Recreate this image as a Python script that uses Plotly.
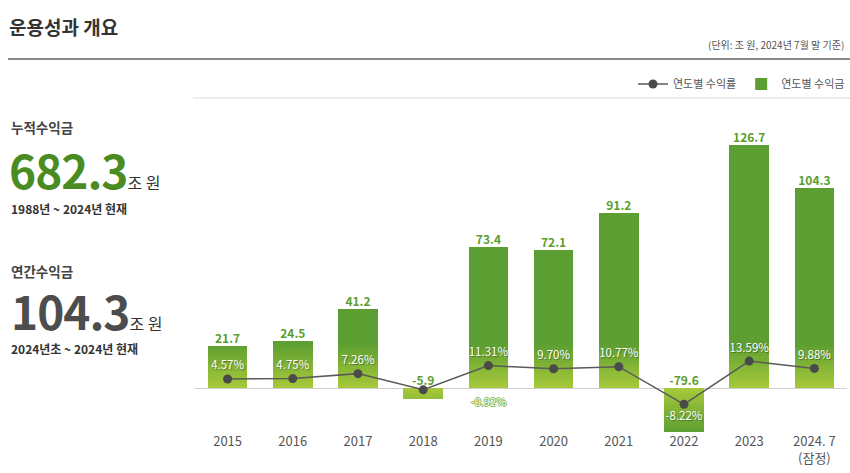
import plotly.graph_objects as go

# ---------------- data ----------------
years = ["2015", "2016", "2017", "2018", "2019", "2020", "2021", "2022", "2023", "2024. 7<br>(잠정)"]
amounts = [21.7, 24.5, 41.2, -5.9, 73.4, 72.1, 91.2, -79.6, 126.7, 104.3]          # 연도별 수익금 (조 원)
rates = [4.57, 4.75, 7.26, -0.92, 11.31, 9.70, 10.77, -8.22, 13.59, 9.88]          # 연도별 수익률 (%)
amount_labels = ["21.7", "24.5", "41.2", "-5.9", "73.4", "72.1", "91.2", "-79.6", "126.7", "104.3"]
rate_labels = ["4.57%", "4.75%", "7.26%", "-0.92%", "11.31%", "9.70%", "10.77%", "-8.22%", "13.59%", "9.88%"]

FONT = "Noto Sans CJK KR"
W, H = 850, 473
DARK = (92, 158, 50)
LIGHT = (168, 202, 58)
GREEN_TXT = "#5a9e2f"

# plot area in pixels
PX_L, PX_R, PX_T, PX_B = 195, 847, 98, 432
ZERO_PX = 388
Y_PX_PER_UNIT = 1.92
Y2_PX_PER_UNIT = 1.98

def px2paper_x(px):
    return px / W

def px2paper_y(py):
    return (H - py) / H

y_range = [-(PX_B - ZERO_PX) / Y_PX_PER_UNIT, (ZERO_PX - PX_T) / Y_PX_PER_UNIT]
y2_range = [-(PX_B - ZERO_PX) / Y2_PX_PER_UNIT, (ZERO_PX - PX_T) / Y2_PX_PER_UNIT]

xpos = list(range(len(years)))

fig = go.Figure()

BAR_W = 0.61
# main bars
fig.add_trace(go.Bar(
    x=xpos, y=amounts, width=BAR_W, name="연도별 수익금",
    marker=dict(color="rgb(%d,%d,%d)" % DARK, line=dict(width=0)),
    hoverinfo="skip", cliponaxis=True,
))

# gradient bands near the baseline (derived from the data values)
G = 23.0
N = 14
step = G / N
for k in range(N):
    lo = k * step
    t = (k + 0.5) / N
    c = tuple(int(round(LIGHT[i] + (DARK[i] - LIGHT[i]) * t)) for i in range(3))
    bases, heights = [], []
    for v in amounts:
        if v >= 0:
            h = min(step, max(0.0, v - lo))
            bases.append(lo)
            heights.append(h)
        else:
            h = min(step, max(0.0, -v - lo))
            bases.append(-lo)
            heights.append(-h)
    fig.add_trace(go.Bar(
        x=xpos, y=heights, base=bases, width=BAR_W,
        marker=dict(color="rgb(%d,%d,%d)" % c, line=dict(width=0)),
        showlegend=False, hoverinfo="skip", cliponaxis=True,
    ))

# value labels
fig.add_trace(go.Scatter(
    x=xpos, y=[max(v, 0) for v in amounts], mode="text",
    text=amount_labels, textposition="top center",
    textfont=dict(family=FONT, size=12, color=GREEN_TXT, weight="bold"),
    showlegend=False, hoverinfo="skip", cliponaxis=False,
))

# rate line
rate_pos = ["bottom center" if r < -5 else "top center" for r in rates]
rate_text = ["" if (-5 < r < 0) else lbl for r, lbl in zip(rates, rate_labels)]
fig.add_trace(go.Scatter(
    x=xpos, y=rates, yaxis="y2", mode="lines+markers+text",
    name="연도별 수익률",
    line=dict(color="#5a5a5a", width=1.5),
    marker=dict(color="#4a4a4a", size=9),
    text=rate_text, textposition=rate_pos,
    textfont=dict(family=FONT, size=11.5, color="white",
                  shadow="1px 1px 1px rgba(0,0,0,0.35)"),
    hoverinfo="skip", cliponaxis=False,
))

annotations = []
# small negative rate label (displaced, green outlined white text)
for xp, r, lbl in zip(xpos, rates, rate_labels):
    if -5 < r < 0:
        annotations.append(dict(
            x=xp, y=r, xref="x", yref="y2", text=lbl, showarrow=False,
            xshift=65, yshift=-11,
            font=dict(family=FONT, size=11, color="white",
                      shadow="1px 0 0 #7ab443, -1px 0 0 #7ab443, 0 1px 0 #7ab443, 0 -1px 0 #7ab443"),
        ))

# header
annotations += [
    dict(x=px2paper_x(7), y=px2paper_y(27), xref="paper", yref="paper",
         text="<b>운용성과 개요</b>", showarrow=False, xanchor="left", yanchor="middle",
         font=dict(family=FONT, size=19, color="#333")),
    dict(x=px2paper_x(846), y=px2paper_y(45), xref="paper", yref="paper",
         text="(단위: 조 원, 2024년 7월 말 기준)", showarrow=False, xanchor="right", yanchor="middle",
         font=dict(family=FONT, size=10, color="#555")),
    # left panel
    dict(x=px2paper_x(9), y=px2paper_y(127), xref="paper", yref="paper",
         text="<b>누적수익금</b>", showarrow=False, xanchor="left", yanchor="middle",
         font=dict(family=FONT, size=13.5, color="#444")),
    dict(x=px2paper_x(7), y=px2paper_y(204), xref="paper", yref="paper",
         text="<span style='font-size:46px;font-weight:bold;color:#4a8c22;letter-spacing:-1px'>682.3</span>"
              "<span style='font-size:16px;color:#333'>조 원</span>",
         showarrow=False, xanchor="left", yanchor="bottom",
         font=dict(family=FONT, size=16, color="#333")),
    dict(x=px2paper_x(9), y=px2paper_y(208), xref="paper", yref="paper",
         text="<b>1988년 ~ 2024년 현재</b>", showarrow=False, xanchor="left", yanchor="middle",
         font=dict(family=FONT, size=12, color="#333")),
    dict(x=px2paper_x(9), y=px2paper_y(271), xref="paper", yref="paper",
         text="<b>연간수익금</b>", showarrow=False, xanchor="left", yanchor="middle",
         font=dict(family=FONT, size=13.5, color="#444")),
    dict(x=px2paper_x(9), y=px2paper_y(345), xref="paper", yref="paper",
         text="<span style='font-size:46px;font-weight:bold;color:#4d4d4d;letter-spacing:-1px'>104.3</span>"
              "<span style='font-size:16px;color:#333'>조 원</span>",
         showarrow=False, xanchor="left", yanchor="bottom",
         font=dict(family=FONT, size=16, color="#333")),
    dict(x=px2paper_x(9), y=px2paper_y(349), xref="paper", yref="paper",
         text="<b>2024년초 ~ 2024년 현재</b>", showarrow=False, xanchor="left", yanchor="middle",
         font=dict(family=FONT, size=12, color="#333")),
]

shapes = [
    dict(type="line", xref="paper", yref="paper",
         x0=px2paper_x(8), x1=1, y0=px2paper_y(59), y1=px2paper_y(59),
         line=dict(color="#8a8a8a", width=2)),
    dict(type="line", xref="paper", yref="paper",
         x0=px2paper_x(193), x1=1, y0=px2paper_y(98), y1=px2paper_y(98),
         line=dict(color="#eeeeee", width=2)),
]

fig.update_layout(
    width=W, height=H,
    margin=dict(l=0, r=0, t=0, b=0),
    paper_bgcolor="white", plot_bgcolor="white",
    barmode="overlay", bargap=0,
    font=dict(family=FONT, color="#555"),
    showlegend=True,
    legend=dict(orientation="h", x=1, xanchor="right", y=px2paper_y(84), yanchor="middle",
                traceorder="reversed", font=dict(family=FONT, size=11, color="#555"),
                bgcolor="rgba(0,0,0,0)", itemwidth=30),
    xaxis=dict(domain=[px2paper_x(PX_L), px2paper_x(PX_R)],
               range=[-0.5, len(years) - 0.5],
               tickmode="array", tickvals=xpos, ticktext=years,
               showgrid=False, showline=False, ticks="", zeroline=False,
               tickfont=dict(family=FONT, size=13, color="#555"), fixedrange=True),
    yaxis=dict(domain=[px2paper_y(PX_B), px2paper_y(PX_T)], range=y_range,
               showgrid=False, showticklabels=False, ticks="", showline=False,
               zeroline=True, zerolinecolor="#d0d0d0", zerolinewidth=1, fixedrange=True),
    yaxis2=dict(domain=[px2paper_y(PX_B), px2paper_y(PX_T)], range=y2_range, overlaying="y",
                anchor="x", showgrid=False, showticklabels=False, ticks="", showline=False,
                zeroline=False, fixedrange=True),
    annotations=annotations,
    shapes=shapes,
)

fig.write_html("out.html", config={"displayModeBar": False},
               post_script="document.body.style.margin='0';document.body.style.padding='0';")
